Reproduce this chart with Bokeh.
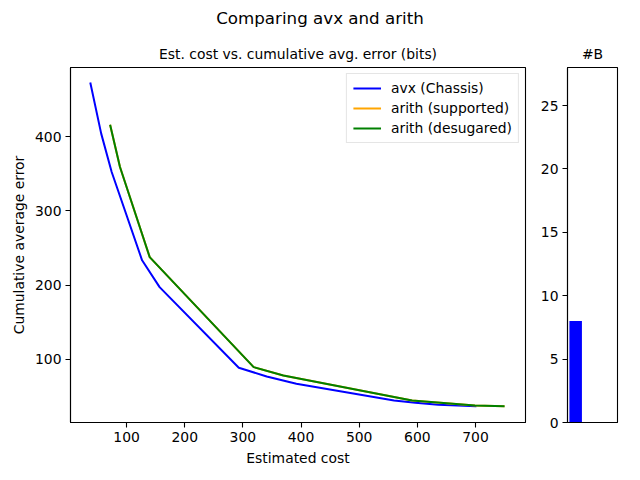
from bokeh.plotting import figure
from bokeh.models import Range1d, Legend, LegendItem, FixedTicker, Div
from bokeh.layouts import row, column
from bokeh.embed import file_html
from bokeh.resources import INLINE

# ---- data ----
avx_cost = [37.6, 56.4, 74.4, 126.7, 156.8, 293, 341, 392, 560, 596.6, 636, 701.6]
avx_err = [472.7, 404, 352.3, 233.5, 197.4, 88.9, 77.2, 67.3, 44.8, 41.7, 39.0, 37.2]
sup_cost = [71.7, 88.7, 139.8, 318.6, 369.6, 591, 699, 750]
sup_err = [416, 359, 237.8, 89.7, 78.5, 44.8, 38.1, 37.2]
des_cost = [71.7, 88.7, 139.8, 318.6, 369.6, 591, 699, 750]
des_err = [416, 359, 237.8, 89.7, 78.5, 44.8, 38.1, 37.2]
x_ticks = [100, 200, 300, 400, 500, 600, 700]
y_ticks = [100, 200, 300, 400]
bar_pos = [0]
bar_counts = [8]
bar_ticks = [0, 5, 10, 15, 20, 25]

FONT = "DejaVu Sans"
TICK_PX = "13.9px"

def style(p):
    p.toolbar_location = None
    p.xgrid.visible = False
    p.ygrid.visible = False
    p.outline_line_color = "black"
    p.outline_line_width = 1.1
    p.outline_line_alpha = 1.0
    p.background_fill_color = "white"
    p.border_fill_color = "white"
    for ax in p.xaxis + p.yaxis:
        ax.axis_line_color = "black"
        ax.axis_line_width = 1.1
        ax.major_tick_line_color = "black"
        ax.major_tick_line_width = 1.1
        ax.major_tick_out = 5
        ax.major_tick_in = 0
        ax.minor_tick_line_color = None
        ax.major_label_text_font = FONT
        ax.major_label_text_font_size = TICK_PX
        ax.major_label_text_color = "black"
        ax.axis_label_text_font = FONT
        ax.axis_label_text_font_size = TICK_PX
        ax.axis_label_text_font_style = "normal"
        ax.axis_label_text_color = "black"
        ax.major_label_standoff = 4

HEAD_H = 36
FRAME_H = 355
TOP = 67 - HEAD_H

header = Div(text='<div style="position:relative; left:8px; width:624px; text-align:center; '
                  'font-family:\'DejaVu Sans\'; font-size:16.7px; line-height:20px; '
                  'padding-top:8px; color:black;">Comparing avx and arith</div>',
             width=624, height=HEAD_H, margin=(0, 0, 0, 0))

p1 = figure(frame_width=455, frame_height=FRAME_H, output_backend="svg",
            toolbar_location=None, x_range=Range1d(3.6, 786), y_range=Range1d(15.2, 493),
            min_border_left=70, min_border_right=10, min_border_top=TOP, min_border_bottom=42)
style(p1)
p1.xaxis.ticker = FixedTicker(ticks=x_ticks)
p1.yaxis.ticker = FixedTicker(ticks=y_ticks)
p1.xaxis.axis_label = "Estimated cost"
p1.yaxis.axis_label = "Cumulative average error"
p1.title.text = "Est. cost vs. cumulative avg. error (bits)"
p1.title.align = "center"
p1.title.text_font = FONT
p1.title.text_font_size = TICK_PX
p1.title.text_font_style = "normal"
p1.title.text_color = "black"
p1.title.standoff = 11

r1 = p1.line(avx_cost, avx_err, line_color="blue", line_width=2)
r2 = p1.line(sup_cost, sup_err, line_color="orange", line_width=2)
r3 = p1.line(des_cost, des_err, line_color="green", line_width=2)
legend = Legend(items=[LegendItem(label="avx (Chassis)", renderers=[r1]),
                       LegendItem(label="arith (supported)", renderers=[r2]),
                       LegendItem(label="arith (desugared)", renderers=[r3])],
                location="top_right", label_text_font=FONT, label_text_font_size=TICK_PX,
                label_text_color="black",
                glyph_width=28, glyph_height=14, spacing=4, padding=6, margin=6,
                border_line_color="#cccccc", border_line_width=1, background_fill_alpha=0.8,
                label_standoff=10, label_height=14)
p1.add_layout(legend)

p2 = figure(frame_width=50, frame_height=FRAME_H, output_backend="svg",
            toolbar_location=None, x_range=Range1d(-0.654, 3.346), y_range=Range1d(0, 28),
            min_border_left=32, min_border_right=7, min_border_top=TOP, min_border_bottom=42)
style(p2)
p2.yaxis.ticker = FixedTicker(ticks=bar_ticks)
p2.xaxis.ticker = FixedTicker(ticks=[])
p2.xaxis.major_label_text_font_size = "0px"
p2.title.text = "#B"
p2.title.align = "center"
p2.title.text_font = FONT
p2.title.text_font_size = TICK_PX
p2.title.text_font_style = "normal"
p2.title.text_color = "black"
p2.title.standoff = 11
p2.vbar(x=bar_pos, top=bar_counts, width=1, bottom=0, fill_color="blue", line_color=None)

layout = column(header, row(p1, p2), spacing=0)
open("out.html", "w").write(file_html(layout, INLINE))
